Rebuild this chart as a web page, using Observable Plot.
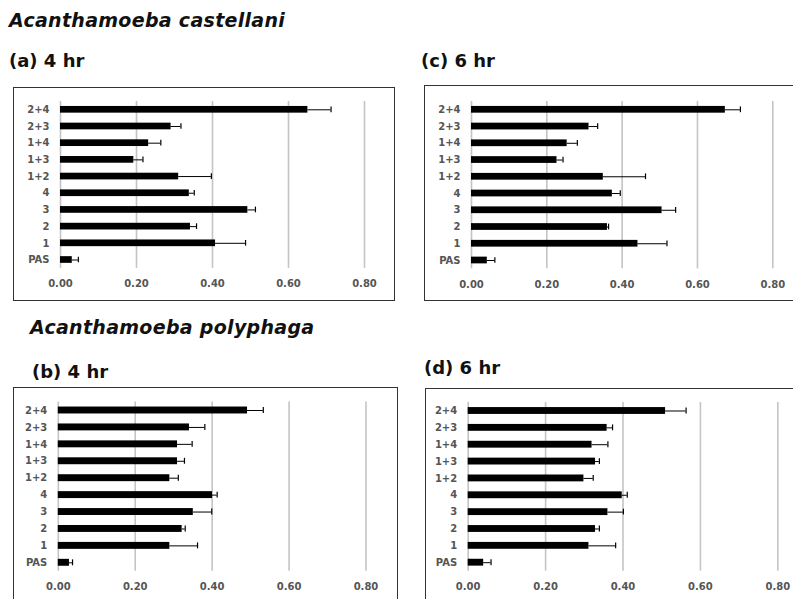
<!DOCTYPE html>
<html>
<head>
<meta charset="utf-8">
<script src="https://cdn.jsdelivr.net/npm/d3@7"></script>
<script src="https://cdn.jsdelivr.net/npm/@observablehq/plot@0.6"></script>
<style>
  html, body { margin: 0; padding: 0; background: #fff; overflow: hidden; }
  #root { position: relative; width: 793px; height: 599px; overflow: hidden; background: #fff; }
  .species { position: absolute; font-family: "DejaVu Sans", sans-serif; font-style: italic; font-weight: 700; font-size: 19px; letter-spacing: 0.3px; color: #111; white-space: nowrap; line-height: 1; }
  .ptitle { position: absolute; font-family: "DejaVu Sans", sans-serif; font-weight: 700; font-size: 18px; color: #111; white-space: nowrap; line-height: 1; }
  .box { position: absolute; border: 1.6px solid #333; box-sizing: border-box; }
  .plot { position: absolute; overflow: visible; }
  .plot svg { max-width: none !important; display: block; }
  .plot svg text { font-family: "DejaVu Sans", sans-serif; font-weight: 700; fill: #555; }
</style>
</head>
<body>
<div id="root"></div>
<script>
// ---- data ----
const categories = ["PAS", "1", "2", "3", "4", "1+2", "1+3", "1+4", "2+3", "2+4"];
const xTicks = [0, 0.2, 0.4, 0.6, 0.8];

// (a) A. castellani, 4 hr
const castellani4Mean = [0.031, 0.408, 0.342, 0.493, 0.339, 0.311, 0.193, 0.232, 0.291, 0.651];
const castellani4Err  = [0.016, 0.079, 0.016, 0.020, 0.013, 0.086, 0.024, 0.032, 0.026, 0.061];
// (c) A. castellani, 6 hr
const castellani6Mean = [0.042, 0.442, 0.361, 0.506, 0.374, 0.350, 0.227, 0.254, 0.312, 0.674];
const castellani6Err  = [0.020, 0.077, 0.003, 0.036, 0.021, 0.112, 0.016, 0.027, 0.023, 0.040];
// (b) A. polyphaga, 4 hr
const polyphaga4Mean = [0.029, 0.290, 0.322, 0.351, 0.401, 0.290, 0.310, 0.310, 0.341, 0.492];
const polyphaga4Err  = [0.008, 0.072, 0.008, 0.048, 0.012, 0.022, 0.018, 0.038, 0.040, 0.041];
// (d) A. polyphaga, 6 hr
const polyphaga6Mean = [0.040, 0.312, 0.329, 0.361, 0.398, 0.299, 0.329, 0.320, 0.359, 0.510];
const polyphaga6Err  = [0.019, 0.069, 0.010, 0.040, 0.013, 0.024, 0.010, 0.041, 0.014, 0.053];

const speciesLabels = ["Acanthamoeba castellani", "Acanthamoeba polyphaga"];
const panelTitles = ["(a) 4 hr", "(c) 6 hr", "(b) 4 hr", "(d) 6 hr"];

// ---- layout ----
const root = document.getElementById("root");
function addText(cls, text, left, top) {
  const d = document.createElement("div");
  d.className = cls; d.textContent = text;
  d.style.left = left + "px"; d.style.top = top + "px";
  root.appendChild(d);
}
addText("species", speciesLabels[0], 9, 11);
addText("species", speciesLabels[1], 30, 318);

const panels = [
  {title: panelTitles[0], tx: 9, ty: 52, mean: castellani4Mean, err: castellani4Err,
   box: {l: 13, t: 87, w: 382, h: 214}, x0: 60, x8: 364, yA: 109.3, yB: 259.5},
  {title: panelTitles[1], tx: 421, ty: 52, mean: castellani6Mean, err: castellani6Err,
   box: {l: 424, t: 85, w: 385, h: 216}, x0: 471, x8: 772.3, yA: 109.3, yB: 260},
  {title: panelTitles[2], tx: 32, ty: 363, mean: polyphaga4Mean, err: polyphaga4Err,
   box: {l: 12.5, t: 387, w: 385, h: 230}, x0: 57.3, x8: 365, yA: 410, yB: 562.3},
  {title: panelTitles[3], tx: 424, ty: 359, mean: polyphaga6Mean, err: polyphaga6Err,
   box: {l: 425, t: 387.5, w: 385, h: 230}, x0: 467.7, x8: 777.3, yA: 410, yB: 561.7}
];

for (const p of panels) {
  addText("ptitle", p.title, p.tx, p.ty);
  const b = document.createElement("div");
  b.className = "box";
  Object.assign(b.style, {left: p.box.l + "px", top: p.box.t + "px", width: p.box.w + "px", height: p.box.h + "px"});
  root.appendChild(b);

  const rows = categories.map((c, i) => ({cat: c, mean: p.mean[i], hi: p.mean[i] + p.err[i]}));
  const step = (p.yB - p.yA) / (categories.length - 1);
  const mL = p.x0 - p.box.l;
  const mR = p.box.l + p.box.w - p.x8;
  const mT = p.yA - step / 2 - p.box.t;
  const plotH = Math.min(p.box.h, 599 - p.box.t + 20);
  const mB = plotH - (mT + step * categories.length);

  const chart = Plot.plot({
    width: p.box.w,
    height: plotH,
    marginLeft: mL, marginRight: mR, marginTop: mT, marginBottom: mB,
    style: {background: "transparent", fontSize: "10px", overflow: "visible"},
    x: {domain: [0, 0.8], round: false},
    y: {domain: categories.slice().reverse(), padding: 0, round: false, label: null},
    marks: [
      Plot.ruleX(xTicks, {stroke: "#c4c4c4", strokeWidth: 1.6}),
      Plot.barX(rows, {x: "mean", y: "cat", fill: "#000", insetTop: 5, insetBottom: 5}),
      Plot.ruleY(rows, {x1: "mean", x2: "hi", y: "cat", stroke: "#000", strokeWidth: 1}),
      Plot.tickX(rows, {x: "hi", y: "cat", stroke: "#000", strokeWidth: 1.2, insetTop: 5.5, insetBottom: 5.5}),
      Plot.axisX({ticks: xTicks, tickFormat: d3.format(".2f"), tickSize: 0, tickPadding: 12, label: null}),
      Plot.axisY({tickSize: 0, tickPadding: 11, label: null})
    ]
  });
  const wrap = document.createElement("div");
  wrap.className = "plot";
  wrap.style.left = p.box.l + "px"; wrap.style.top = p.box.t + "px";
  wrap.style.width = p.box.w + "px"; wrap.style.height = plotH + "px";
  wrap.appendChild(chart);
  root.appendChild(wrap);
}
</script>
</body>
</html>
